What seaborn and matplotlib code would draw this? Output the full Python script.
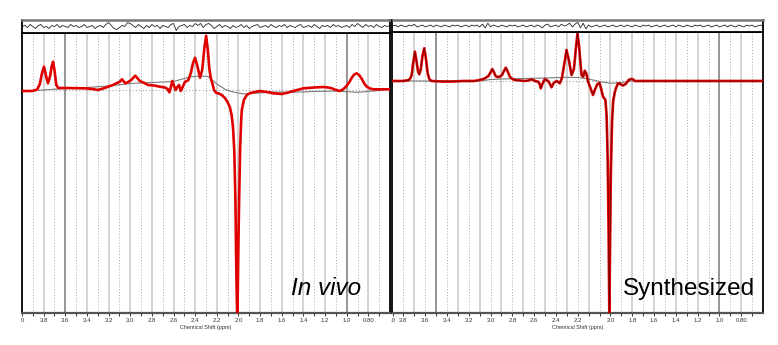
import numpy as np
import pandas as pd
import matplotlib
matplotlib.use("Agg")
import matplotlib.pyplot as plt
import seaborn as sns

# ---- In vivo panel: fitted spectrum (ppm, amplitude)
vivo_fit_ppm = [4.00, 3.90, 3.86, 3.835, 3.815, 3.797, 3.78, 3.76, 3.74, 3.725, 3.713, 3.70, 3.683,
                3.665, 3.60, 3.50, 3.42, 3.35, 3.30, 3.25, 3.205, 3.16, 3.128, 3.10, 3.076, 3.06,
                3.045, 3.02, 2.99, 2.97, 2.953, 2.935, 2.912, 2.87, 2.835, 2.78, 2.725, 2.68, 2.655,
                2.638, 2.625, 2.611, 2.595, 2.58, 2.565, 2.549, 2.534, 2.515, 2.494, 2.475, 2.463,
                2.44, 2.42, 2.401, 2.38, 2.355, 2.335, 2.315, 2.299, 2.283, 2.27, 2.256, 2.24, 2.226,
                2.205, 2.186, 2.154, 2.125, 2.103, 2.08, 2.063, 2.05, 2.039, 2.028, 2.02, 2.012,
                2.006, 2.0, 1.994, 1.985, 1.975, 1.969, 1.95, 1.923, 1.89, 1.847, 1.80, 1.74, 1.677,
                1.60, 1.54, 1.493, 1.44, 1.40, 1.30, 1.215, 1.17, 1.138, 1.10, 1.061, 1.03, 1.0,
                0.975, 0.953, 0.93, 0.907, 0.885, 0.86, 0.835, 0.814, 0.785, 0.753, 0.70, 0.60]
vivo_fit_amp = [-1, -1, 0.5, 6, 17, 23.3, 15, 6.7, 14, 24, 28.3, 20, 5,
                2, 2, 1.8, 1.7, 1, 0, 1.5, 3.3, 5, 6.7, 8, 10.7, 8.5,
                6.7, 8, 10, 12.5, 14.3, 12, 9, 7, 5, 4.5, 3.3, 2.5, 1,
                -2.3, 3, 9, 4, 0, 3, 5, -1, 3, 8.3, 9, 10,
                17, 27, 32.3, 24, 12.3, 20, 42, 54.3, 40, 22, 12, 6, 0,
                -3, -3.3, -5, -8, -11.7, -17, -25, -38, -60, -110, -180, -228,
                -200, -150, -110, -60, -30, -20, -10, -5, -3, -2, -1, -2, -3.3,
                -4, -2.5, -1, 0.5, 1.7, 2.5, 3, 2.5, 1.7, 0, -1, 1, 4.3,
                8, 12.3, 15.5, 16.7, 15, 11, 6, 3.3, 1.5, 0.7, 0.7, 0.7]
vivo_base_ppm = [4.0, 3.8, 3.6, 3.4, 3.2, 3.0, 2.8, 2.6, 2.45, 2.35, 2.28, 2.2, 2.12, 2.05,
                 1.95, 1.85, 1.7, 1.5, 1.3, 1.1, 0.9, 0.75, 0.6]
vivo_base_amp = [-1, 0, 1.5, 2.5, 4, 6.5, 7.5, 8.5, 13, 14, 13.5, 6, 0.5, -2,
                 -4, -3.3, -2, -2.3, -1.5, -1, -2.3, -1, 1]
vivo_resid = [0, 1, -1, 2, 0, -2, 1, 2, -1, 0, -2, 1, 0, 2, -1, 1, 0, -1, 2, 0,
              1, -1, 0, 2, -1, 0, 1, -2, 0, 1, -1, 2, 4, 1, -2, -3, -1, 1, 0, 4,
              3, 1, -1, 2, 0, -2, 1, -1, 2, 0, 1, -2, 1, 0, -1, 2, 3, -4, 0, 1,
              2, -1, 1, 0, 3, 1, 3, -1, 2, 3, 1, -2, 0, 2, -1, 1, 0, -2, 1, -1,
              0, 2, -1, 1, -2, 0, 1, 2, -1, 0, 1, -1, 2, 0, -1, 1, 0, 2, -1, 1,
              0, -1, 1, 2, -1, 0, 1, -1, 2, 0, -2, 1, 0, 1, -1, 2, 0, 1, -1, 0,
              1, -1, 2, 0, 3, 1, -1, 2, 0, 1, -1, 2, 0, -1, 1, 0, 1]

# ---- Synthesized panel
syn_fit_ppm = [4.0, 3.90, 3.85, 3.835, 3.824, 3.81, 3.794, 3.78, 3.765, 3.754, 3.74, 3.725, 3.709,
               3.695, 3.677, 3.665, 3.656, 3.64, 3.55, 3.45, 3.35, 3.25, 3.18, 3.152, 3.12, 3.10,
               3.085, 3.07, 3.054, 3.035, 3.015, 2.995, 2.975, 2.96, 2.945, 2.923, 2.90, 2.877,
               2.83, 2.786, 2.755, 2.724, 2.69, 2.664, 2.65, 2.639, 2.625, 2.602, 2.587, 2.572,
               2.555, 2.541, 2.52, 2.495, 2.48, 2.465, 2.445, 2.425, 2.403, 2.38, 2.357, 2.335,
               2.315, 2.302, 2.288, 2.266, 2.25, 2.236, 2.22, 2.205, 2.18, 2.16, 2.14, 2.119,
               2.10, 2.085, 2.068, 2.046, 2.035, 2.025, 2.017, 2.01, 2.003, 1.996, 1.985, 1.975,
               1.959, 1.945, 1.93, 1.91, 1.885, 1.86, 1.833, 1.81, 1.793, 1.777, 1.75, 1.6, 1.4,
               1.2, 1.0, 0.8, 0.6]
syn_fit_amp = [0, 0, 1, 3, 6, 18, 29.3, 20, 9, 6.7, 12, 25, 32.7,
               24, 7.7, 3, 1, 0, -0.5, -0.5, 0, 0, 1.5, 2.7, 5, 8.5,
               12, 9, 5, 4, 4.3, 6, 10.5, 13.3, 10, 4.3, 2, 1,
               0.5, 0, 0.5, 1.7, 0, -0.7, -3, -7.3, -3, 2, 1, 0,
               -3, -6.3, -2, 0, -1, -2.3, 3, 16, 31, 20, 6, 12,
               35, 47.7, 35, 6, 4.3, 10.3, 7, -0.7, -8, -14, -8, -3,
               -2, -8, -15.7, -19, -35, -80, -150, -236, -160, -90, -40, -20,
               -10.7, -6, -2.3, -3, -4.5, -3, 1, 2, 1.7, 0, 0, 0, 0,
               0, 0, 0, 0]
syn_base_ppm = [4.0, 3.2, 3.1, 3.0, 2.8, 2.6, 2.4, 2.3, 2.2, 2.1, 2.0, 1.9, 1.8, 0.6]
syn_base_amp = [0, 0, 1.5, 2, 2.5, 3, 3.7, 3.5, 2, -0.5, -2.3, -1.5, 0, 0]
syn_resid = [0, 1, -1, 1, 0, -1, 1, 0, 2, -1, 0, 1, -1, 0, 1, -1, 1, 0, -1, 1,
             0, -1, 1, 0, 1, -1, 0, 1, -1, 1, 0, 1, -1, 2, -2, 3, -1, 1, 0, -1,
             1, 0, -1, 1, 0, 1, -1, 0, 1, -1, 0, 1, -1, 1, 0, -2, 1, 2, -1, 0,
             1, -1, 2, 0, 1, 3, -1, 2, 4, -2, 3, -3, 1, -1, 0, 1, -1, 0, 1, -1,
             0, 1, -1, 0, 1, -1, 1, 0, -1, 1, 0, -1, 1, 0, 1, -1, 0, 1, -1, 0,
             1, -1, 0, 1, -1, 1, 0, -1, 1, 0, -1, 1, 0, 1, -1, 0, 1, -1, 0, 1,
             -1, 0, 1, -1, 1, 0, -1, 1, 0, -1, 1, 0, 1, -1, 0, 1, 0]
resid_ppm = np.linspace(4.0, 0.6, 137)

# tick labels (the synthesized panel has its labels shifted in the original)
vivo_tick_pos = [4.0, 3.8, 3.6, 3.4, 3.2, 3.0, 2.8, 2.6, 2.4, 2.2, 2.0, 1.8, 1.6, 1.4, 1.2, 1.0, 0.8]
vivo_tick_lab = ['0', '3.8', '3.6', '3.4', '3.2', '3.0', '2.8', '2.6', '2.4', '2.2', '2.0',
                 '1.8', '1.6', '1.4', '1.2', '1.0', '0.80']
syn_tick_pos = [4.0, 3.9, 3.7, 3.5, 3.3, 3.1, 2.9, 2.7, 2.5, 2.3, 2.0, 1.8, 1.6, 1.4, 1.2, 1.0, 0.8]
syn_tick_lab = ['.0', '3.8', '3.6', '3.4', '3.2', '3.0', '2.8', '2.6', '2.4', '2.2', '2.0',
                '1.8', '1.6', '1.4', '1.2', '1.0', '0.80']

sns.set_style("white")
plt.rcParams['font.family'] = ['Liberation Sans', 'DejaVu Sans']

W, H = 778, 345
fig = plt.figure(figsize=(W / 100, H / 100), dpi=100)


def box(x0, y0, x1, y1):
    return [x0 / W, 1 - y1 / H, (x1 - x0) / W, (y1 - y0) / H]


def draw_panel(main_box, res_box, fit_ppm, fit_amp, base_ppm, base_amp, resid,
               ylim, tick_pos, tick_lab, label, italic, label_x, black_core):
    ax = fig.add_axes(main_box)
    axr = fig.add_axes(res_box)

    # grid: solid every 0.2 ppm, dotted in between
    for g in np.round(np.arange(3.9, 0.65, -0.1), 1):
        if round(g * 10) % 2 == 0:
            col = '#8c8c8c' if g in (3.6, 1.0) else '#cfcfcf'
            ax.axvline(g, color=col, lw=1.3, zorder=0)
        else:
            ax.axvline(g, color='#a8a8a8', lw=0.7, ls=(0, (1, 2)), zorder=0)
    ax.axhline(0, color='#a0a0a0', lw=0.8, ls=(0, (1, 2)), zorder=0)

    df_fit = pd.DataFrame({'ppm': fit_ppm, 'amp': fit_amp})
    df_base = pd.DataFrame({'ppm': base_ppm, 'amp': base_amp})
    sns.lineplot(data=df_base, x='ppm', y='amp', ax=ax, color='#7a7a7a', lw=0.8,
                 sort=False, estimator=None, zorder=2)
    sns.lineplot(data=df_fit, x='ppm', y='amp', ax=ax, color='#e00000', lw=1.9,
                 sort=False, estimator=None, zorder=3)
    if black_core:
        sns.lineplot(data=df_fit, x='ppm', y='amp', ax=ax, color='#3a0000', lw=0.35,
                     sort=False, estimator=None, zorder=4)

    ax.set_xlim(4.0, 0.6)
    ax.set_ylim(*ylim)
    ax.set_yticks([])
    ax.set_ylabel('')
    ax.set_xticks(tick_pos)
    ax.set_xticklabels(tick_lab)
    ax.set_xticks(np.arange(3.9, 0.65, -0.1), minor=True)
    ax.tick_params(axis='x', which='both', direction='out', length=2, width=0.7,
                   colors='#333333', labelsize=4.3, pad=1.5, bottom=True)
    ax.set_xlabel('Chemical Shift (ppm)', fontsize=4, color='#333333', labelpad=1.5)
    for s in ['left', 'right', 'top']:
        ax.spines[s].set_color('black')
        ax.spines[s].set_linewidth(1.3)
    ax.spines['bottom'].set_color('#555555')
    ax.spines['bottom'].set_linewidth(1.6)

    df_res = pd.DataFrame({'ppm': resid_ppm, 'res': resid})
    sns.lineplot(data=df_res, x='ppm', y='res', ax=axr, color='#222222', lw=0.6,
                 sort=False, estimator=None)
    axr.set_xlim(4.0, 0.6)
    axr.set_ylim(-6.5, 6.5)
    axr.set_xticks([])
    axr.set_yticks([])
    axr.set_xlabel('')
    axr.set_ylabel('')
    for s in axr.spines.values():
        s.set_color('black')
        s.set_linewidth(1.3)
    axr.spines['top'].set_color('#777777')
    axr.spines['top'].set_linewidth(1.8)

    ax.text(label_x, 0.064, label, transform=ax.transAxes, ha='right', va='baseline',
            fontsize=17.5, style='italic' if italic else 'normal', color='black')


draw_panel(box(22, 33, 390, 313), box(22, 20, 390, 33),
           vivo_fit_ppm, vivo_fit_amp, vivo_base_ppm, vivo_base_amp, vivo_resid,
           (-223, 57), vivo_tick_pos, vivo_tick_lab, 'In vivo', True, 0.921, False)
draw_panel(box(392.5, 32, 763, 313), box(392.5, 20, 763, 32),
           syn_fit_ppm, syn_fit_amp, syn_base_ppm, syn_base_amp, syn_resid,
           (-232, 49), syn_tick_pos, syn_tick_lab, 'Synthesized', False, 0.978, True)

fig.savefig('out.png', dpi=100)
